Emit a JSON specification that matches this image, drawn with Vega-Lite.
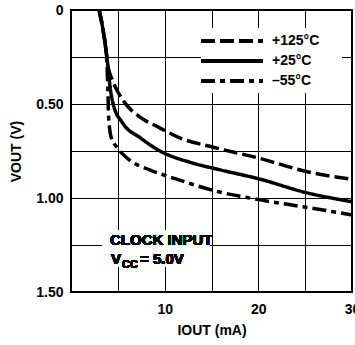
{
  "$schema": "https://vega.github.io/schema/vega-lite/v6.json",
  "width": 281,
  "height": 282,
  "autosize": "none",
  "padding": {"left": 71, "top": 10, "right": 3, "bottom": 53},
  "background": "white",
  "config": {
    "font": "Liberation Sans, Arial, sans-serif",
    "view": {"stroke": "black", "strokeWidth": 2},
    "axis": {
      "domain": false, "ticks": false,
      "labelFont": "Liberation Sans, sans-serif",
      "labelFontWeight": "bold", "labelFontSize": 14, "labelColor": "#000",
      "titleFont": "Liberation Sans, sans-serif",
      "titleFontWeight": "bold", "titleFontSize": 14, "titleColor": "#000"
    }
  },
  "resolve": {"axis": {"x": "independent", "y": "independent"}},
  "data": {
    "values": [
      {"T": "+125°C", "I": 3.0, "V": 0},
      {"T": "+125°C", "I": 3.4, "V": 0.1},
      {"T": "+125°C", "I": 3.7, "V": 0.2},
      {"T": "+125°C", "I": 3.95, "V": 0.3},
      {"T": "+125°C", "I": 4.4, "V": 0.37},
      {"T": "+125°C", "I": 5.55, "V": 0.48},
      {"T": "+125°C", "I": 7.37, "V": 0.57},
      {"T": "+125°C", "I": 9.2, "V": 0.62},
      {"T": "+125°C", "I": 11.6, "V": 0.68},
      {"T": "+125°C", "I": 15.2, "V": 0.73},
      {"T": "+125°C", "I": 20.2, "V": 0.79},
      {"T": "+125°C", "I": 25.2, "V": 0.86},
      {"T": "+125°C", "I": 30, "V": 0.9},
      {"T": "+25°C", "I": 3.0, "V": 0},
      {"T": "+25°C", "I": 3.4, "V": 0.1},
      {"T": "+25°C", "I": 3.7, "V": 0.2},
      {"T": "+25°C", "I": 3.95, "V": 0.3},
      {"T": "+25°C", "I": 4.15, "V": 0.4},
      {"T": "+25°C", "I": 4.5, "V": 0.5},
      {"T": "+25°C", "I": 5.5, "V": 0.6},
      {"T": "+25°C", "I": 7.4, "V": 0.68},
      {"T": "+25°C", "I": 9.7, "V": 0.755},
      {"T": "+25°C", "I": 12.7, "V": 0.81},
      {"T": "+25°C", "I": 15.9, "V": 0.85},
      {"T": "+25°C", "I": 20.2, "V": 0.9},
      {"T": "+25°C", "I": 25, "V": 0.97},
      {"T": "+25°C", "I": 30, "V": 1.02},
      {"T": "–55°C", "I": 3.0, "V": 0},
      {"T": "–55°C", "I": 3.4, "V": 0.1},
      {"T": "–55°C", "I": 3.7, "V": 0.2},
      {"T": "–55°C", "I": 3.85, "V": 0.3},
      {"T": "–55°C", "I": 3.95, "V": 0.45},
      {"T": "–55°C", "I": 4.0, "V": 0.55},
      {"T": "–55°C", "I": 4.1, "V": 0.62},
      {"T": "–55°C", "I": 4.3, "V": 0.68},
      {"T": "–55°C", "I": 4.9, "V": 0.73},
      {"T": "–55°C", "I": 6.3, "V": 0.8},
      {"T": "–55°C", "I": 8.4, "V": 0.85},
      {"T": "–55°C", "I": 11.3, "V": 0.9},
      {"T": "–55°C", "I": 15.2, "V": 0.96},
      {"T": "–55°C", "I": 20.2, "V": 1.01},
      {"T": "–55°C", "I": 25.2, "V": 1.05},
      {"T": "–55°C", "I": 30, "V": 1.09}
    ]
  },
  "layer": [
    {
      "mark": {"type": "line", "color": "black", "strokeWidth": 3.5, "interpolate": "monotone"},
      "encoding": {
        "x": {
          "field": "I", "type": "quantitative",
          "scale": {"domain": [0, 30], "nice": false, "zero": false},
          "axis": {
            "grid": true, "gridColor": "black", "gridOpacity": 1, "gridWidth": 1,
            "values": [0, 5, 10, 15, 20, 25, 30],
            "labelExpr": "(datum.value > 0 && datum.value % 10 == 0) ? format(datum.value, 'd') : ''",
            "labelFlush": false, "labelPadding": 10,
            "title": "IOUT (mA)", "titlePadding": 7
          }
        },
        "y": {
          "field": "V", "type": "quantitative",
          "scale": {"domain": [0, 1.5], "reverse": true, "nice": false, "zero": false},
          "axis": {
            "grid": true, "gridColor": "black", "gridOpacity": 1, "gridWidth": 1,
            "values": [0, 0.25, 0.5, 0.75, 1, 1.25, 1.5],
            "labelExpr": "datum.value == 0 ? '0' : ((datum.value == 0.5 || datum.value == 1 || datum.value == 1.5) ? format(datum.value, '.2f') : '')",
            "labelPadding": 8, "labelFlush": false,
            "title": "VOUT (V)", "titlePadding": 12
          }
        },
        "strokeDash": {
          "field": "T", "type": "nominal",
          "scale": {"domain": ["+125°C", "+25°C", "–55°C"], "range": [[14, 5], [1, 0], [14, 5, 5, 5]]},
          "legend": {
            "orient": "none", "legendX": 128, "legendY": 21, "title": null,
            "symbolType": "stroke", "symbolSize": 3844, "symbolStrokeWidth": 4,
            "symbolStrokeColor": "black", "labelFontSize": 14, "labelFontWeight": "bold",
            "labelFont": "Liberation Sans, sans-serif",
            "labelColor": "#000", "labelOffset": 7, "rowPadding": 0, "clipHeight": 20
          }
        }
      }
    },
    {
      "mark": {"type": "rect", "color": "white"},
      "encoding": {
        "x": {"datum": 13.9, "type": "quantitative", "axis": null},
        "x2": {"datum": 28.9},
        "y": {"datum": 0.096, "type": "quantitative", "axis": null},
        "y2": {"datum": 0.44}
      }
    },
    {
      "mark": {"type": "rect", "color": "white"},
      "encoding": {
        "x": {"datum": 3.4, "type": "quantitative", "axis": null},
        "x2": {"datum": 14.8},
        "y": {"datum": 1.17, "type": "quantitative", "axis": null},
        "y2": {"datum": 1.367}
      }
    },
    {
      "mark": {"type": "text", "align": "left", "baseline": "alphabetic", "fontSize": 15, "font": "Liberation Sans, sans-serif", "fontWeight": "bold", "color": "#000"},
      "encoding": {"x": {"datum": 4.16, "type": "quantitative", "axis": null}, "y": {"datum": 1.25, "type": "quantitative", "axis": null}, "text": {"value": "CLOCK INPUT"}}
    },
    {
      "mark": {"type": "text", "align": "left", "baseline": "alphabetic", "fontSize": 15, "font": "Liberation Sans, sans-serif", "fontWeight": "bold", "color": "#000"},
      "encoding": {"x": {"datum": 4.27, "type": "quantitative", "axis": null}, "y": {"datum": 1.35, "type": "quantitative", "axis": null}, "text": {"value": "V"}}
    },
    {
      "mark": {"type": "text", "align": "left", "baseline": "alphabetic", "fontSize": 11, "font": "Liberation Sans, sans-serif", "fontWeight": "bold", "color": "#000"},
      "encoding": {"x": {"datum": 5.44, "type": "quantitative", "axis": null}, "y": {"datum": 1.372, "type": "quantitative", "axis": null}, "text": {"value": "CC"}}
    },
    {
      "mark": {"type": "text", "align": "left", "baseline": "alphabetic", "fontSize": 15, "font": "Liberation Sans, sans-serif", "fontWeight": "bold", "color": "#000"},
      "encoding": {"x": {"datum": 7.37, "type": "quantitative", "axis": null}, "y": {"datum": 1.35, "type": "quantitative", "axis": null}, "text": {"value": "= 5.0V"}}
    }
  ]
}
